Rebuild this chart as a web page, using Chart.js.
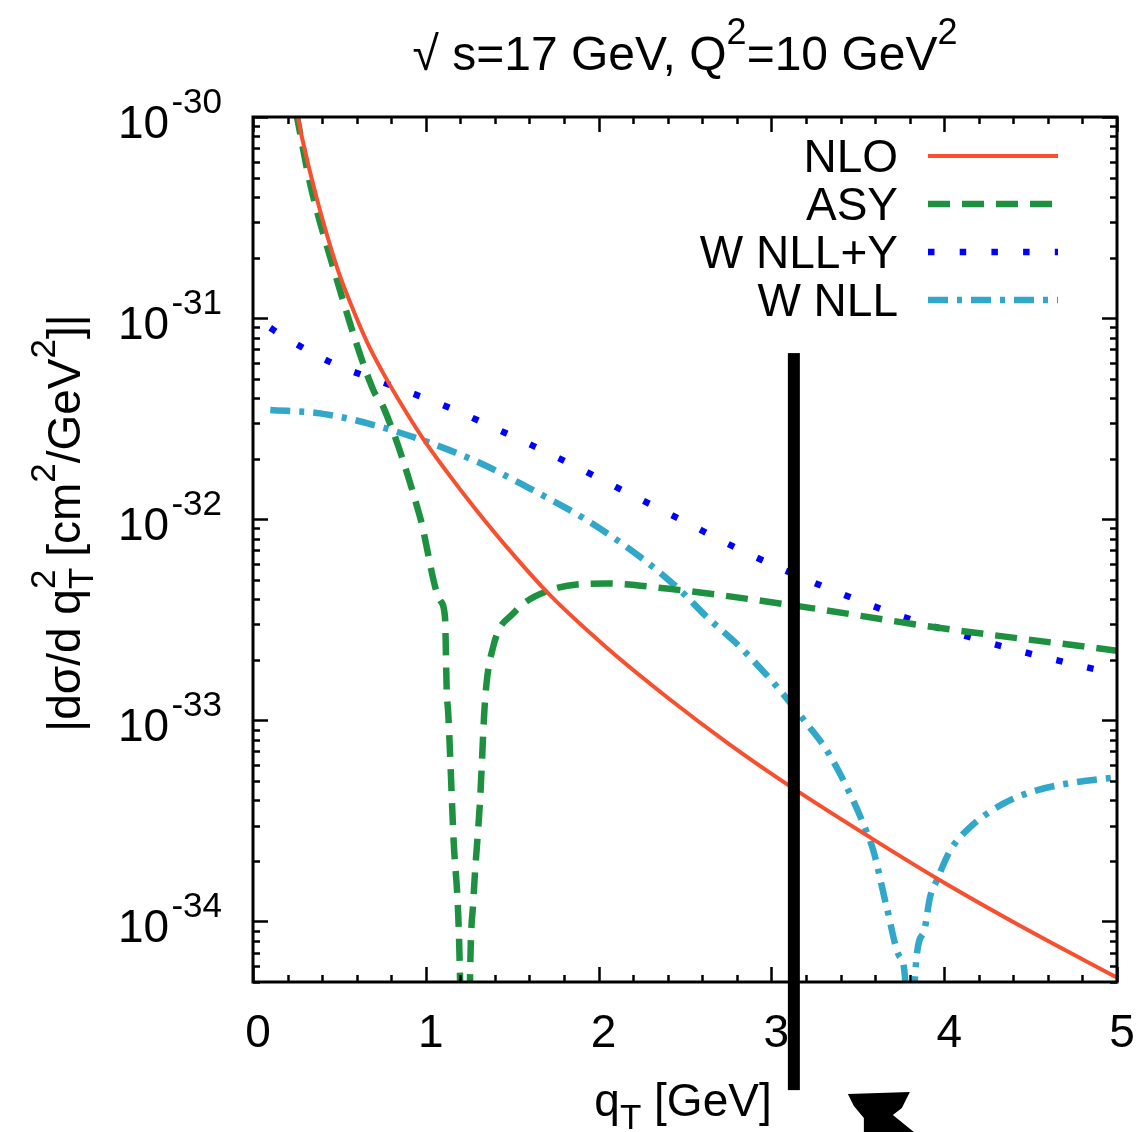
<!DOCTYPE html>
<html>
<head>
<meta charset="utf-8">
<script src="https://cdn.jsdelivr.net/npm/chart.js@4/dist/chart.umd.min.js"></script>
<style>
  html, body { margin: 0; padding: 0; background: #fff; }
  canvas { display: block; }
</style>
</head>
<body>
<canvas id="chart" width="1140" height="1132" style="width:1140px;height:1132px"></canvas>
<script>
// values (q_T in GeV, |dsigma/dq_T^2| in cm^2/GeV^2)
const nloQ = [0.25, 0.284, 0.37, 0.486, 0.573, 0.66, 0.747, 0.833, 0.978, 1.123, 1.279, 1.499, 1.719, 2.049, 2.413, 2.749, 3.096, 3.571, 3.958, 4.479, 5.0];
const nloVal = [1.1e-30, 7.86e-31, 3.91e-31, 1.79e-31, 1.135e-31, 7.6e-32, 5.45e-32, 4.05e-32, 2.56e-32, 1.714e-32, 1.148e-32, 6.78e-33, 4.19e-33, 2.29e-33, 1.27e-33, 7.69e-34, 4.78e-34, 2.62e-34, 1.637e-34, 9.12e-35, 5.26e-35];

// ASY changes sign near q_T = 1.23, so |ASY| dives below the axis there
const asyQ = [0.25, 0.33, 0.446, 0.696, 0.754, 0.966, 1.082, 1.111, 1.121, 1.13, 1.159, 1.198, 1.225,
              1.235, 1.256, 1.275, 1.314, 1.343, 1.39, 1.506, 1.719, 2.047, 2.394, 3.127, 3.937, 5.0];
const asyVal = [1.05e-30, 4.68e-31, 2.02e-31, 4.39e-32, 3.62e-32, 1.03e-32, 3.95e-33, 3.27e-33, 1.41e-33, 1.08e-33, 2.74e-34, 5.26e-35, 1e-36,
                1e-36, 5.26e-35, 1.27e-34, 4.0e-34, 1.26e-33, 2.32e-33, 3.40e-33, 4.44e-33, 4.79e-33, 4.52e-33, 3.73e-33, 2.91e-33, 2.22e-33];

const wnllyQ = [0.1, 0.141, 0.455, 0.793, 1.13, 1.458, 1.786, 2.105, 2.432, 2.751, 3.079, 3.411, 3.754, 4.097, 4.448, 4.796, 5.0];
const wnllyVal = [8.95e-32, 8.47e-32, 6.0e-32, 4.65e-32, 3.6e-32, 2.69e-32, 1.98e-32, 1.44e-32, 1.04e-32, 7.52e-33, 5.57e-33, 4.24e-33, 3.29e-33, 2.67e-33, 2.2e-33, 1.86e-33, 1.7e-33];

// W NLL also crosses zero, near q_T = 3.8
const wnllQ = [0.1, 0.388, 0.774, 1.275, 1.603, 1.931, 2.24, 2.471, 2.626, 2.818, 3.05, 3.204, 3.32, 3.436, 3.532, 3.59, 3.667, 3.744, 3.773, 3.8,
               3.81, 3.831, 3.879, 3.918, 3.957, 4.034, 4.149, 4.342, 4.535, 4.767, 5.0];
const wnllVal = [3.49e-32, 3.36e-32, 2.82e-32, 1.97e-32, 1.42e-32, 9.9e-33, 6.5e-33, 4.44e-33, 3.27e-33, 2.32e-33, 1.41e-33, 9.64e-34, 7.1e-34, 4.66e-34, 3.06e-34, 2.25e-34, 1.18e-34, 6.65e-35, 5.28e-35, 1e-36,
                 1e-36, 5.28e-35, 8.69e-35, 1.32e-34, 1.6e-34, 2.25e-34, 2.94e-34, 3.85e-34, 4.49e-34, 4.93e-34, 5.21e-34];

const seriesNames = ['NLO', 'ASY', 'W NLL+Y', 'W NLL'];
const xTicks = [0, 1, 2, 3, 4, 5];
const xMinorStep = 0.2;
const yDecades = [-30, -31, -32, -33, -34];
const yMin = 5e-35, yMax = 1e-30;

// the hand-drawn black bar over the plot
const markQ = 3.13, markTop = 6.7e-32, markBottom = 1.45e-35;

const FONT = '"Liberation Sans", Arial, Helvetica, sans-serif';

function pts(q, v) {
    return q.map((x, i) => ({ x: x, y: v[i] }));
}

function drawParts(ctx, parts, x, y, align) {
    let w = 0;
    parts.forEach(p => {
        ctx.font = p.s + 'px ' + FONT;
        p.w = ctx.measureText(p.t).width;
        if (p.adv !== false) w += p.w;
    });
    let cx = align === 'center' ? x - w / 2 : (align === 'right' ? x - w : x);
    ctx.textAlign = 'left';
    ctx.textBaseline = 'alphabetic';
    parts.forEach(p => {
        ctx.font = p.s + 'px ' + FONT;
        ctx.fillText(p.t, cx, y + (p.dy || 0));
        if (p.adv !== false) cx += p.w;
    });
}

const gnuplotFrame = {
    id: 'gnuplotFrame',
    afterDraw(chart) {
        const ctx = chart.ctx;
        const a = chart.chartArea;
        const xs = chart.scales.x, ys = chart.scales.y;
        ctx.save();
        ctx.fillStyle = '#000';
        ctx.strokeStyle = '#000';

        // ticks, inward on all four sides
        ctx.lineWidth = 2.5;
        ctx.beginPath();
        for (let v = 0; v <= 5.0001; v += xMinorStep) {
            const px = Math.round(xs.getPixelForValue(v)) + 0.5;
            const major = Math.abs(v - Math.round(v)) < 1e-6;
            const len = major ? 15 : 7;
            ctx.moveTo(px, a.bottom); ctx.lineTo(px, a.bottom - len);
            ctx.moveTo(px, a.top); ctx.lineTo(px, a.top + len);
        }
        yDecades.concat([-35]).forEach(e => {
            for (let m = 1; m <= 9; m++) {
                const v = m * Math.pow(10, e);
                if (v < yMin * 0.999 || v > yMax * 1.001) continue;
                const py = Math.round(ys.getPixelForValue(v)) + 0.5;
                const len = m === 1 ? 15 : 7;
                ctx.moveTo(a.left, py); ctx.lineTo(a.left + len, py);
                ctx.moveTo(a.right, py); ctx.lineTo(a.right - len, py);
            }
        });
        ctx.stroke();

        ctx.lineWidth = 3;
        ctx.strokeRect(a.left, a.top, a.right - a.left, a.bottom - a.top);

        // tick labels
        xTicks.forEach(t => {
            drawParts(ctx, [{ t: String(t), s: 46 }], xs.getPixelForValue(t) + 5, a.bottom + 65, 'center');
        });
        yDecades.forEach(e => {
            const py = ys.getPixelForValue(Math.pow(10, e));
            drawParts(ctx, [{ t: '10', s: 46 }, { t: ' ', s: 8 }, { t: String(e), s: 35, dy: -25 }], a.left - 31, py + 21, 'right');
        });

        // title
        drawParts(ctx, [
            { t: '\u221A s=17 GeV, Q', s: 48 }, { t: '2', s: 36, dy: -26 },
            { t: '=10 GeV', s: 48 }, { t: '2', s: 36, dy: -26 }
        ], (a.left + a.right) / 2, 70, 'center');

        // x axis title
        drawParts(ctx, [{ t: 'q', s: 46 }, { t: 'T', s: 35, dy: 13 }, { t: ' [GeV]', s: 46 }],
            (a.left + a.right) / 2 - 2, 1116, 'center');

        // y axis title (rotated)
        ctx.save();
        ctx.translate(80, 523);
        ctx.rotate(-Math.PI / 2);
        drawParts(ctx, [
            { t: '|d\u03C3/d q', s: 46 }, { t: 'T', s: 35, dy: 13, adv: false }, { t: '2', s: 35, dy: -25 },
            { t: ' [cm', s: 46 }, { t: '2', s: 35, dy: -25 }, { t: '/GeV', s: 46 }, { t: '2', s: 35, dy: -25 },
            { t: ']|', s: 46 }
        ], 0, 0, 'center');
        ctx.restore();

        // legend inside the plot, text right-aligned, sample on the right
        chart.data.datasets.forEach((ds, i) => {
            const rowY = 156 + i * 48;
            drawParts(ctx, [{ t: ds.label, s: 46 }], 898, rowY + 16, 'right');
            ctx.save();
            ctx.strokeStyle = ds.borderColor;
            ctx.lineWidth = ds.borderWidth;
            ctx.setLineDash(ds.borderDash || []);
            ctx.beginPath();
            ctx.moveTo(928, rowY);
            ctx.lineTo(1058, rowY);
            ctx.stroke();
            ctx.restore();
        });

        // black marker bar and the scribble below the axis
        const mx = xs.getPixelForValue(markQ);
        const t0 = ys.getPixelForValue(markTop), b0 = ys.getPixelForValue(markBottom);
        ctx.fillStyle = '#000';
        ctx.fillRect(mx - 6, t0, 12, b0 - t0);

        ctx.beginPath();
        ctx.moveTo(mx + 54, 1094);
        ctx.lineTo(mx + 116, 1092);
        ctx.lineTo(mx + 108, 1108);
        ctx.lineTo(mx + 99, 1115);
        ctx.lineTo(mx + 120, 1132);
        ctx.lineTo(mx + 70, 1132);
        ctx.lineTo(mx + 70, 1118);
        ctx.lineTo(mx + 60, 1106);
        ctx.closePath();
        ctx.fill();
        ctx.restore();
    }
};

new Chart(document.getElementById('chart'), {
    type: 'line',
    data: {
        datasets: [
            { label: seriesNames[0], data: pts(nloQ, nloVal), borderColor: '#f7502f', borderWidth: 4 },
            { label: seriesNames[1], data: pts(asyQ, asyVal), borderColor: '#1d9140', borderWidth: 6.5, borderDash: [22, 12] },
            { label: seriesNames[2], data: pts(wnllyQ, wnllyVal), borderColor: '#0000ff', borderWidth: 6.5, borderDash: [6.5, 25.2] },
            { label: seriesNames[3], data: pts(wnllQ, wnllVal), borderColor: '#31a8c9', borderWidth: 6.5, borderDash: [20, 9, 5, 9] }
        ]
    },
    options: {
        responsive: false,
        animation: false,
        devicePixelRatio: 1,
        layout: { padding: { left: 253, right: 23, top: 117, bottom: 150 } },
        elements: {
            point: { radius: 0, hoverRadius: 0 },
            line: { cubicInterpolationMode: 'monotone', fill: false, borderCapStyle: 'butt' }
        },
        scales: {
            x: { type: 'linear', min: 0, max: 5, display: false },
            y: { type: 'logarithmic', min: yMin, max: yMax, display: false }
        },
        plugins: {
            legend: { display: false },
            title: { display: false },
            tooltip: { enabled: false }
        }
    },
    plugins: [gnuplotFrame]
});
</script>
</body>
</html>
